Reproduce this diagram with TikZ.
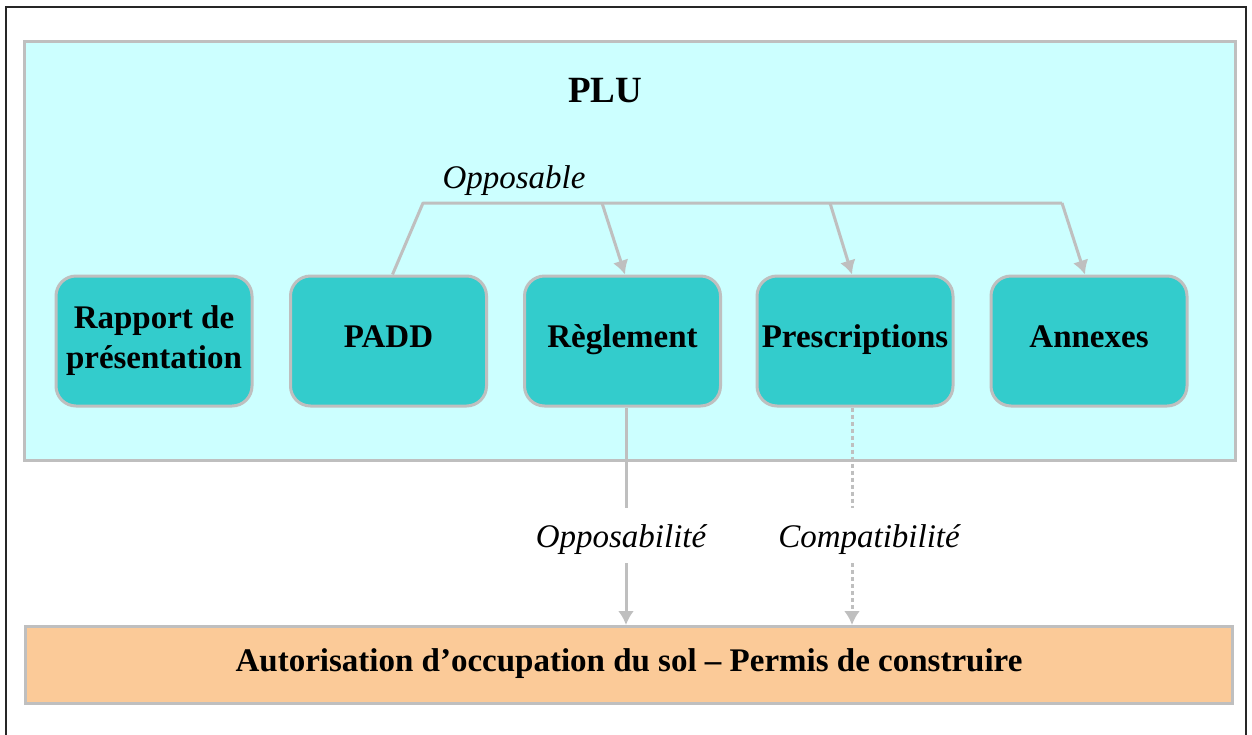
\documentclass[tikz,border=0pt]{standalone}
\usepackage{fontspec}
\setmainfont{Liberation Serif}
\usetikzlibrary{arrows.meta}
\definecolor{plubg}{HTML}{CCFFFF}
\definecolor{teal}{HTML}{33CCCC}
\definecolor{edge}{HTML}{BFBFBF}
\definecolor{peach}{HTML}{FBCA98}
\tikzset{
  x=1pt, y=-1pt,
  part/.style={draw=edge, line width=3pt, fill=teal, rounded corners=20pt,
    minimum width=196pt, minimum height=130pt, inner sep=2pt, align=center,
    font=\fontsize{33}{40}\selectfont\bfseries},
  oneline/.style={text height=20pt, text depth=8pt},
  lbl/.style={font=\fontsize{33}{40}\selectfont\itshape, inner sep=0pt, anchor=base},
  conn/.style={draw=edge, line width=3pt},
  tip/.style={-{Latex[length=14pt,width=16pt]}},
}
\begin{document}
\begin{tikzpicture}
\useasboundingbox (0,0) rectangle (1252,734);
% outer frame
\draw[line width=2pt, black!85] (6,740) -- (6,7) -- (1246,7) -- (1246,740);
% PLU container
\node[draw=edge, line width=3pt, fill=plubg, minimum width=1211pt, minimum height=419pt, inner sep=0pt] (plu) at (630,251) {};
\node[font=\fontsize{37}{44}\selectfont\bfseries, inner sep=0pt, anchor=base] (plutitle) at (605,102) {PLU};
% parts
\node[part] (rapport) at (154,341) {Rapport de\\présentation};
\node[part, oneline] (padd) at (388.5,341) {PADD};
\node[part, oneline] (regl) at (622.5,341) {Règlement};
\node[part, oneline] (presc) at (855,341) {Prescriptions};
\node[part, oneline] (annexes) at (1089,341) {Annexes};
% bottom box
\node[draw=edge, line width=3pt, fill=peach, minimum width=1207pt, minimum height=77pt, inner sep=0pt,
  font=\fontsize{33}{40}\selectfont\bfseries, text height=20pt, text depth=8pt] (aos) at (629,665)
  {Autorisation d’occupation du sol – Permis de construire};
% Opposable bracket
\node[lbl] (opp) at (514,188) {Opposable};
\coordinate (bL) at (423,203);
\coordinate (bR) at (1062,203);
\coordinate (b1) at (602,203);
\coordinate (b2) at (830,203);
\draw[conn, line join=round] ([xshift=4pt]padd.north) -- (bL) -- (bR);
\draw[conn, tip] (b1) -- ([xshift=2.5pt]regl.north);
\draw[conn, tip] (b2) -- ([xshift=-3pt]presc.north);
\draw[conn, tip] (bR) -- ([xshift=-4pt]annexes.north);
% Opposabilité / Compatibilité
\node[lbl] (opposab) at (621,547) {Opposabilité};
\node[lbl] (compat) at (869,547) {Compatibilité};
\coordinate (r1) at ([xshift=3.5pt]regl.south |- 0,508);
\coordinate (r2) at ([xshift=3.5pt]regl.south |- 0,563);
\coordinate (p1) at ([xshift=-3pt]presc.south |- 0,508);
\coordinate (p2) at ([xshift=-3pt]presc.south |- 0,563);
\draw[conn] ([xshift=3.5pt]regl.south) -- (r1);
\draw[conn, tip] (r2) -- (r2 |- aos.north);
\draw[conn, dash pattern=on 4pt off 3pt] ([xshift=-3pt]presc.south) -- (p1);
\draw[conn, dash pattern=on 4pt off 3pt, tip] (p2) -- (p2 |- aos.north);
\end{tikzpicture}
\end{document}
